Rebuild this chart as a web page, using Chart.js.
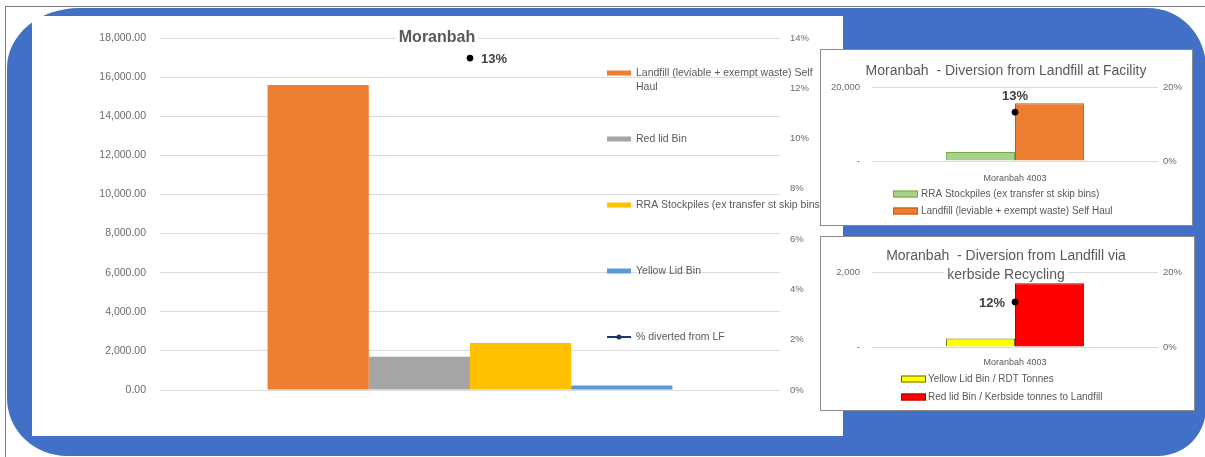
<!DOCTYPE html>
<html>
<head>
<meta charset="utf-8">
<script src="https://cdn.jsdelivr.net/npm/chart.js@4.4.1/dist/chart.umd.min.js"></script>
<style>
    body { margin: 0; width: 1205px; height: 457px; overflow: hidden; background: #fff; position: relative; }
    .frame { position: absolute; left: 5px; top: 6px; right: 0; bottom: 0; border-left: 1px solid #7f7f7f; border-top: 1px solid #7f7f7f; }
    .blue { position: absolute; left: 7px; top: 8px; width: 1199px; height: 448px; background: #4170c6;
            border-radius: 72px 58px 48px 60px / 60px 60px 48px 58px; }
    .panel { position: absolute; background: #fff; }
    .panel canvas { position: absolute; left: 0; top: 0; }
    #mainPanel { left: 32px; top: 16px; width: 811px; height: 420px; }
    #p1 { left: 821px; top: 50px; width: 371px; height: 175px; box-shadow: 0 0 0 1px #8c8c8c; }
    #p2 { left: 821px; top: 237px; width: 373px; height: 173px; box-shadow: 0 0 0 1px #8c8c8c; }
</style>
</head>
<body>
<div class="frame"></div>
<div class="blue"></div>
<div class="panel" id="mainPanel"><canvas id="mainChart" width="811" height="420"></canvas></div>
<div class="panel" id="p1"><canvas id="facilityChart" width="371" height="175"></canvas></div>
<div class="panel" id="p2"><canvas id="kerbsideChart" width="373" height="173"></canvas></div>
<script>
// data (tonnes)
const categories = ['Moranbah 4003'];
const landfill = [15600];
const redLidBin = [1700];
const rraStockpiles = [2400];
const yellowLidBin = [230];
const divertedFacility = [0.132];
const divertedKerbside = [0.12];

// tick labels
const mainTonneTicks = [0, 2000, 4000, 6000, 8000, 10000, 12000, 14000, 16000, 18000];
const mainPctTicks = [0, 0.02, 0.04, 0.06, 0.08, 0.10, 0.12, 0.14];
const facilityTonneTicks = [0, 20000];
const kerbsideTonneTicks = [0, 2000];
const smallPctTicks = [0, 0.2];

const FONT = "'Liberation Sans', Arial, sans-serif";
const GREY = '#595959';

function wrapText(ctx, text, maxWidth) {
    const words = text.split(' ');
    const lines = [];
    let line = '';
    words.forEach(w => {
        const test = line ? line + ' ' + w : w;
        if (line && ctx.measureText(test).width > maxWidth) {
            lines.push(line);
            line = w;
        } else {
            line = test;
        }
    });
    lines.push(line);
    return lines;
}

// legend drawn at fixed spot, Excel puts it over the plot
const boxLegend = {
    id: 'boxLegend',
    afterDraw(chart, args, o) {
        const ctx = chart.ctx;
        ctx.save();
        ctx.font = o.font;
        ctx.textBaseline = 'middle';
        let n = 0;
        chart.data.datasets.forEach((ds, i) => {
            if (ds.type === 'line' && o.skipLine) return;
            const y = o.y + n * o.gap;
            n++;
            if (ds.type === 'line') {
                ctx.strokeStyle = ds.borderColor;
                ctx.lineWidth = 2;
                ctx.beginPath();
                ctx.moveTo(o.x, y);
                ctx.lineTo(o.x + o.w, y);
                ctx.stroke();
                ctx.fillStyle = ds.borderColor;
                ctx.beginPath();
                ctx.arc(o.x + o.w / 2, y, 2.5, 0, Math.PI * 2);
                ctx.fill();
            } else {
                ctx.fillStyle = ds.backgroundColor;
                ctx.fillRect(o.x, y - o.h / 2, o.w, o.h);
                if (ds.borderWidth) {
                    ctx.strokeStyle = ds.borderColor;
                    ctx.lineWidth = 1;
                    ctx.strokeRect(o.x + 0.5, y - o.h / 2 + 0.5, o.w - 1, o.h - 1);
                }
            }
            ctx.fillStyle = o.color;
            const lines = (o.wrap && o.wrap[i]) ? wrapText(ctx, ds.label, o.maxWidth) : [ds.label];
            lines.forEach((t, k) => ctx.fillText(t, o.textX, y + k * o.lineH));
        });
        ctx.restore();
    }
};

const chartTitle = {
    id: 'chartTitle',
    beforeDatasetsDraw(chart, args, o) {
        const ctx = chart.ctx;
        ctx.save();
        ctx.font = o.font;
        ctx.textAlign = 'center';
        ctx.textBaseline = 'middle';
        o.text.forEach((t, k) => {
            const y = o.y + k * o.lineH;
            const w = ctx.measureText(t).width;
            ctx.fillStyle = '#fff';
            ctx.fillRect(o.x - w / 2 - 3, y - o.lineH / 2 + 1, w + 6, o.lineH - 2);
            ctx.fillStyle = o.color;
            ctx.fillText(t, o.x, y);
        });
        ctx.restore();
    }
};

const pointLabels = {
    id: 'pointLabels',
    afterDatasetsDraw(chart, args, o) {
        const ctx = chart.ctx;
        ctx.save();
        ctx.font = o.font;
        ctx.fillStyle = o.color;
        ctx.textAlign = o.align;
        ctx.textBaseline = 'middle';
        chart.data.datasets.forEach((ds, i) => {
            if (ds.type !== 'line') return;
            chart.getDatasetMeta(i).data.forEach((pt, k) => {
                ctx.fillText(Math.round(ds.data[k] * 100) + '%', pt.x + o.dx, pt.y + o.dy);
            });
        });
        ctx.restore();
    }
};

const setTicks = arr => s => { s.ticks = arr.map(v => ({ value: v })); };
const pct = v => Math.round(v * 100) + '%';
const dash = v => v === 0 ? '-' : v.toLocaleString('en-US');

// main chart
new Chart(document.getElementById('mainChart'), {
    type: 'bar',
    data: {
        labels: categories,
        datasets: [
            { label: 'Landfill (leviable + exempt waste) Self Haul', data: landfill, backgroundColor: '#ED7D31', yAxisID: 'y', order: 1 },
            { label: 'Red lid Bin', data: redLidBin, backgroundColor: '#A5A5A5', yAxisID: 'y', order: 1 },
            { label: 'RRA Stockpiles (ex transfer st skip bins)', data: rraStockpiles, backgroundColor: '#FFC000', yAxisID: 'y', order: 1 },
            { label: 'Yellow Lid Bin', data: yellowLidBin, backgroundColor: '#5B9BD5', yAxisID: 'y', order: 1 },
            { type: 'line', label: '% diverted from LF', data: divertedFacility, yAxisID: 'y1', order: 0,
              borderColor: '#1F3864', pointBackgroundColor: '#000', pointBorderColor: '#000', pointRadius: 3 }
        ]
    },
    options: {
        responsive: false,
        animation: false,
        layout: { padding: { top: 22, bottom: 46, left: 0, right: 0 } },
        datasets: { bar: { categoryPercentage: 0.653, barPercentage: 1 } },
        plugins: {
            legend: { display: false },
            tooltip: { enabled: false },
            chartTitle: { text: ['Moranbah'], x: 405, y: 22, lineH: 18, font: 'bold 16px ' + FONT, color: GREY },
            pointLabels: { font: 'bold 13px ' + FONT, color: '#404040', align: 'left', dx: 11, dy: 1 },
            boxLegend: { x: 575, w: 24, h: 5, textX: 604, y: 57, gap: 66, lineH: 14, maxWidth: 185,
                         wrap: [true, false, false, false, false], font: '10.5px ' + FONT, color: GREY }
        },
        scales: {
            x: { display: false },
            y: {
                position: 'left', min: 0, max: 18000,
                afterBuildTicks: setTicks(mainTonneTicks),
                afterFit(s) { s.width = 128; },
                grid: { color: '#dcdcdc', drawTicks: false },
                border: { display: false },
                ticks: { padding: 14, color: '#6b6b6b', font: { family: FONT, size: 10.5 },
                         callback: v => v.toLocaleString('en-US', { minimumFractionDigits: 2, maximumFractionDigits: 2 }) }
            },
            y1: {
                position: 'right', min: 0, max: 0.14,
                afterBuildTicks: setTicks(mainPctTicks),
                afterFit(s) { s.width = 63; },
                grid: { display: false, drawTicks: false },
                border: { display: false },
                ticks: { padding: 10, color: '#6b6b6b', font: { family: FONT, size: 9.5 }, callback: pct }
            }
        }
    },
    plugins: [chartTitle, pointLabels, boxLegend]
});

function smallChart(id, cfg) {
    new Chart(document.getElementById(id), {
        type: 'bar',
        data: {
            labels: categories,
            datasets: [
                { label: cfg.labels[0], data: cfg.a, backgroundColor: cfg.colors[0], borderColor: cfg.borders[0], borderWidth: 1, order: 1 },
                { label: cfg.labels[1], data: cfg.b, backgroundColor: cfg.colors[1], borderColor: cfg.borders[1], borderWidth: 1, order: 1 },
                { type: 'line', label: 'diverted', data: cfg.pct, yAxisID: 'y1', order: 0,
                  borderColor: '#000', pointBackgroundColor: '#000', pointBorderColor: '#000', pointRadius: 3 }
            ]
        },
        options: {
            responsive: false,
            animation: false,
            layout: { padding: { top: cfg.top, bottom: 0, left: 0, right: 0 } },
            datasets: { bar: { categoryPercentage: 0.483, barPercentage: 1 } },
            plugins: {
                legend: { display: false },
                tooltip: { enabled: false },
                chartTitle: { text: cfg.title, x: 185, y: cfg.titleY, lineH: 19, font: '14px ' + FONT, color: GREY },
                pointLabels: cfg.pointLabel,
                boxLegend: Object.assign({ w: 25, h: 7, lineH: 12, skipLine: true, font: '10px ' + FONT, color: GREY }, cfg.legend)
            },
            scales: {
                x: {
                    afterFit(s) { s.height = cfg.xh; },
                    grid: { display: false, drawTicks: false },
                    border: { display: false },
                    ticks: { padding: cfg.xpad, color: GREY, font: { family: FONT, size: 9 } }
                },
                y: {
                    position: 'left', min: 0, max: cfg.yTicks[cfg.yTicks.length - 1],
                    afterBuildTicks: setTicks(cfg.yTicks),
                    afterFit(s) { s.width = 51; },
                    grid: { color: '#dcdcdc', drawTicks: false },
                    border: { display: false },
                    ticks: { padding: 12, color: '#6b6b6b', font: { family: FONT, size: 9.5 }, callback: dash }
                },
                y1: {
                    position: 'right', min: 0, max: 0.2,
                    afterBuildTicks: setTicks(smallPctTicks),
                    afterFit(s) { s.width = cfg.rightW; },
                    grid: { display: false, drawTicks: false },
                    border: { display: false },
                    ticks: { padding: 5, color: '#6b6b6b', font: { family: FONT, size: 9.5 }, callback: pct }
                }
            }
        },
        plugins: [chartTitle, pointLabels, boxLegend]
    });
}

smallChart('facilityChart', {
    labels: ['RRA Stockpiles (ex transfer st skip bins)', 'Landfill (leviable + exempt waste) Self Haul'],
    a: rraStockpiles, b: landfill, pct: divertedFacility,
    colors: ['#A9D18E', '#ED7D31'], borders: ['#70AD47', '#C55A11'],
    yTicks: facilityTonneTicks, top: 37, xh: 64, xpad: 12, rightW: 34,
    title: ['Moranbah  - Diversion from Landfill at Facility'], titleY: 21,
    pointLabel: { font: 'bold 13px ' + FONT, color: '#404040', align: 'center', dx: 0, dy: -16 },
    legend: { x: 72, textX: 100, y: 144, gap: 17 }
});

smallChart('kerbsideChart', {
    labels: ['Yellow Lid Bin / RDT Tonnes', 'Red lid Bin / Kerbside tonnes to Landfill'],
    a: yellowLidBin, b: redLidBin, pct: divertedKerbside,
    colors: ['#FFFF00', '#FF0000'], borders: ['#6b6b00', '#B00000'],
    yTicks: kerbsideTonneTicks, top: 35, xh: 63, xpad: 10, rightW: 36,
    title: ['Moranbah  - Diversion from Landfill via', 'kerbside Recycling'], titleY: 19,
    pointLabel: { font: 'bold 13px ' + FONT, color: '#404040', align: 'right', dx: -10, dy: 1 },
    legend: { x: 80, textX: 107, y: 142, gap: 18 }
});
</script>
</body>
</html>
